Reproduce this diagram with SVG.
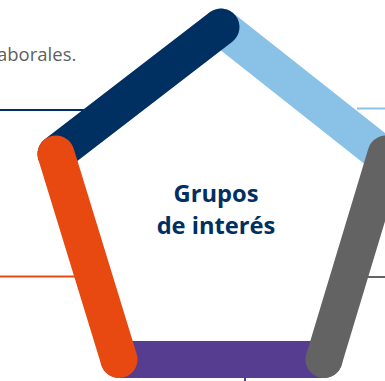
<svg xmlns="http://www.w3.org/2000/svg" width="385" height="381" viewBox="0 0 385 381">
<style>
.bar{fill:none;stroke-width:37;stroke-linecap:round}
.tick{fill:none;stroke-width:2}
.body{font-family:"Open Sans","Noto Sans",sans-serif;font-size:18.500px;fill:#5f5f5f}
.title{font-family:"Open Sans","Noto Sans",sans-serif;font-size:23.700px;font-weight:700;fill:#002f62;text-anchor:middle}
</style>
<rect width="385" height="381" fill="#fff"/>
<text class="body" x="-3" y="61">aborales.</text>
<g id="connectors">
<path class="tick" stroke="#002f62" d="M0 110H85"/>
<path class="tick" stroke="#8ac1e6" d="M357 108.500H385"/>
<path class="tick" stroke="#e84910" d="M0 276.500H80"/>
<path class="tick" stroke="#636363" d="M365 277H385"/>
<path class="tick" stroke="#573d90" d="M245 376V381"/>
</g>
<g id="node-light-blue"><path class="bar" stroke="#8ac1e6" d="M221 27L383 155"/></g>
<g id="node-purple"><path class="bar" stroke="#573d90" d="M119 359.500H324"/></g>
<g id="node-navy"><path class="bar" stroke="#002f62" d="M56 154L221 27"/></g>
<g id="node-orange"><path class="bar" stroke="#e84910" d="M56 154L119 359.500"/></g>
<g id="node-grey"><path class="bar" stroke="#636363" d="M386 154L324 359.500"/></g>
<g id="node-center"><text class="title" x="216" y="202">Grupos</text><text class="title" x="216" y="234">de interés</text></g>
</svg>
